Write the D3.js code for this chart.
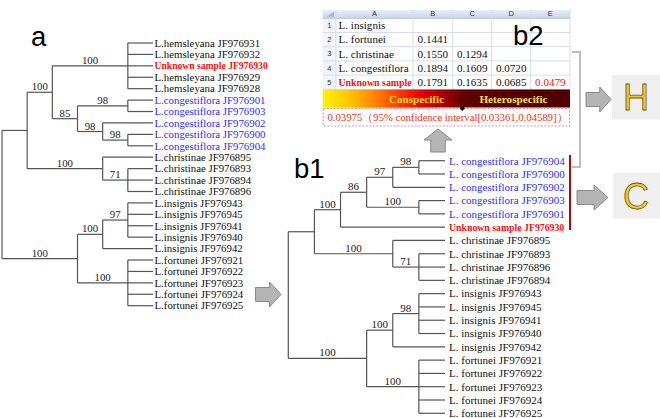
<!DOCTYPE html>
<html><head><meta charset="utf-8">
<script src="https://cdn.jsdelivr.net/npm/d3@7"></script>
<style>body{margin:0;background:#fff}svg{display:block}</style>
</head><body><svg id="c" width="660" height="418"></svg>
<script>
// ---------- DATA ----------
const leavesA = [
  "L.hemsleyana JF976931","L.hemsleyana JF976932","Unknown sample JF976930","L.hemsleyana JF976929","L.hemsleyana JF976928",
  "L.congestiflora JF976901","L.congestiflora JF976903","L.congestiflora JF976902","L.congestiflora JF976900","L.congestiflora JF976904",
  "L.christinae JF976895","L.christinae JF976893","L.christinae JF976894","L.christinae JF976896",
  "L.insignis JF976943","L.insignis JF976945","L.insignis JF976941","L.insignis JF976940","L.insignis JF976942",
  "L.fortunei JF976921","L.fortunei JF976922","L.fortunei JF976923","L.fortunei JF976924","L.fortunei JF976925"];
// topology with bootstrap support; branch length in tree levels
const newickA = "((((0,1,2,3,4)100:3,((5,6)98:2,(7,(8,9)98:1)98:1)85:1)100:1,(10,(11,12,13)71:1)100:3):1,(((14,15,16,17)97:1,18)100:1,(19,20,21,22,23)100:2)100:3)";
const leavesB = [
  "L. congestiflora JF976904","L. congestiflora JF976900","L. congestiflora JF976902","L. congestiflora JF976903","L. congestiflora JF976901",
  "Unknown sample JF976930",
  "L. christinae JF976895","L. christinae JF976893","L. christinae JF976896","L. christinae JF976894",
  "L. insignis JF976943","L. insignis JF976945","L. insignis JF976941","L. insignis JF976940","L. insignis JF976942",
  "L. fortunei JF976921","L. fortunei JF976922","L. fortunei JF976923","L. fortunei JF976924","L. fortunei JF976925"];
const newickB = "((((((0,1)98:1,2)97:1,(3,4)100:2)86:1,5)100:1,(6,(7,8,9)71:1)100:3):1,(((10,11,12,13)98:1,14)100:1,(15,16,17,18,19)100:2)100:3)";
const tableCols = ["A","B","C","D","E"];
const tableSpecies = ["L. insignis","L. fortunei","L. christinae","L. congestiflora","Unknown sample"];
const tableDist = [[],[0.1441],[0.1550,0.1294],[0.1894,0.1609,0.0720],[0.1791,0.1635,0.0685,0.0479]];
const gradientLabels = ["Conspecific","Heterospecific"];
const threshold = "0.03975（95% confidence interval[0.03361,0.04589]）";
const panelLabels = ["a","b1","b2"];
const resultLetters = ["H","C"];

// ---------- HELPERS ----------
const svg = d3.select("#c");
const serif = "'Liberation Serif','Times New Roman',serif";
const sans = "'Liberation Sans',Arial,sans-serif";
const RED = "#f01414", BLUE = "#2f2ff0", LINE = "#555";
const BOLD_SCALE = 0.89;

function parseNewick(s){
  let i = 0;
  function node(){
    const n = {children: []};
    if (s[i] === "("){
      i++;
      while (true){
        n.children.push(node());
        if (s[i] === ","){ i++; continue; }
        if (s[i] === ")"){ i++; break; }
      }
    }
    let tok = "";
    while (i < s.length && !",():;".includes(s[i])) tok += s[i++];
    if (!n.children.length) n.leaf = +tok; else if (tok) n.support = tok;
    if (s[i] === ":"){
      i++; let l = "";
      while (i < s.length && !",();".includes(s[i])) l += s[i++];
      n.len = +l;
    }
    return n;
  }
  return node();
}

function drawTree(newick, names, xS, yS, fs, textGap){
  const g = svg.append("g");
  const root = d3.hierarchy(parseNewick(newick));
  const maxLevel = xS.domain()[1];
  root.eachBefore(d => {
    d.level = !d.parent ? 0 : (d.children ? d.parent.level + (d.data.len || 1) : maxLevel);
  });
  root.leaves().forEach((d, i) => d.yy = yS(i));
  root.eachAfter(d => {
    if (d.children) d.yy = (d.children[0].yy + d.children[d.children.length - 1].yy) / 2;
  });
  const nodes = root.descendants();
  g.selectAll("line.h").data(nodes.filter(d => d.parent)).join("line")
    .attr("x1", d => xS(d.parent.level)).attr("x2", d => xS(d.level))
    .attr("y1", d => d.yy).attr("y2", d => d.yy)
    .attr("stroke", LINE).attr("stroke-width", 1.2);
  g.selectAll("line.v").data(nodes.filter(d => d.children)).join("line")
    .attr("x1", d => xS(d.level)).attr("x2", d => xS(d.level))
    .attr("y1", d => d.children[0].yy).attr("y2", d => d.children[d.children.length - 1].yy)
    .attr("stroke", LINE).attr("stroke-width", 1.2);
  g.selectAll("text.s").data(nodes.filter(d => d.parent && d.data.support)).join("text")
    .attr("x", d => (xS(d.parent.level) + xS(d.level)) / 2)
    .attr("y", d => d.yy - 2)
    .attr("text-anchor", "middle")
    .attr("font-family", serif).attr("font-size", fs)
    .attr("fill", "#222").text(d => d.data.support);
  const isUnk = d => names[d.data.leaf].startsWith("Unknown");
  g.selectAll("text.l").data(root.leaves()).join("text")
    .attr("x", xS(maxLevel) + textGap).attr("y", d => d.yy).attr("dy", "0.35em")
    .attr("font-family", serif).attr("font-size", d => isUnk(d) ? fs * BOLD_SCALE : fs)
    .attr("font-weight", d => isUnk(d) ? "bold" : "normal")
    .attr("fill", d => isUnk(d) ? RED
                 : names[d.data.leaf].includes("congestiflora") ? BLUE : "#111")
    .text(d => names[d.data.leaf]);
  return root;
}

// ---------- TREE a ----------
drawTree(newickA, leavesA,
  d3.scaleLinear().domain([0, 6]).range([2, 153]),
  d3.scaleLinear().domain([0, leavesA.length - 1]).range([43, 305.7]), 10.8, 1.5);

// ---------- TREE b1 ----------
drawTree(newickB, leavesB,
  d3.scaleLinear().domain([0, 6]).range([288.3, 445]),
  d3.scaleLinear().domain([0, leavesB.length - 1]).range([160.7, 413.3]), 11, 4);

svg.append("line").attr("x1", 570).attr("x2", 570).attr("y1", 155).attr("y2", 230)
  .attr("stroke", "#a01010").attr("stroke-width", 2);

// ---------- TABLE b2 ----------
const defs = svg.append("defs");
const hg = defs.append("linearGradient").attr("id", "hdr").attr("x1", 0).attr("x2", 0).attr("y1", 0).attr("y2", 1);
hg.append("stop").attr("offset", 0).attr("stop-color", "#e8eff8");
hg.append("stop").attr("offset", 1).attr("stop-color", "#c6d6eb");
const bg = defs.append("linearGradient").attr("id", "bar");
[[0,"#fff200"],[0.1,"#ffc800"],[0.2,"#ff8c00"],[0.3,"#ff4000"],[0.4,"#e60000"],[0.5,"#9a0000"],[0.57,"#600000"],[1,"#4e0000"]]
  .forEach(([o, c]) => bg.append("stop").attr("offset", o).attr("stop-color", c));

const tX0 = 322.7, tX1 = 570;
const colEdges = [336, 413, 452.7, 491.7, 530.7, 570];
const hY0 = 10, hY1 = 18.3, rowH = 14.2;
const rowY = d3.scaleLinear().domain([0, tableSpecies.length]).range([hY1, hY1 + rowH * tableSpecies.length]);
const tg = svg.append("g");
tg.append("rect").attr("x", tX0).attr("y", hY0).attr("width", tX1 - tX0).attr("height", rowY(5) - hY0).attr("fill", "#fff");
tg.append("rect").attr("x", tX0).attr("y", hY1).attr("width", colEdges[0] - tX0).attr("height", rowY(5) - hY1).attr("fill", "#f1f4f9");
tg.append("rect").attr("x", tX0).attr("y", hY0).attr("width", tX1 - tX0).attr("height", hY1 - hY0).attr("fill", "url(#hdr)");
tg.append("path").attr("d", `M${colEdges[0]-2},${hY0+1.5}L${colEdges[0]-2},${hY1-1.5}L${tX0+4},${hY1-1.5}Z`).attr("fill", "#a9b8cc");
const gridCol = "#d7dee8";
tableSpecies.forEach((s, i) => {
  tg.append("line").attr("x1", tX0).attr("x2", tX1).attr("y1", rowY(i + 1)).attr("y2", rowY(i + 1)).attr("stroke", gridCol);
});
tg.append("line").attr("x1", tX0).attr("x2", tX1).attr("y1", hY1).attr("y2", hY1).attr("stroke", "#b8c6d8");
colEdges.forEach(x => tg.append("line").attr("x1", x).attr("x2", x).attr("y1", hY0).attr("y2", rowY(5)).attr("stroke", gridCol));
tableCols.forEach((c, j) => tg.append("text").attr("x", (colEdges[j] + colEdges[j + 1]) / 2).attr("y", hY1 - 2)
  .attr("text-anchor", "middle").attr("font-family", sans).attr("font-size", 7.5).attr("fill", "#333").text(c));
tableSpecies.forEach((s, i) => {
  const cy = (rowY(i) + rowY(i + 1)) / 2;
  const unk = s.startsWith("Unknown");
  tg.append("text").attr("x", (tX0 + colEdges[0]) / 2).attr("y", cy).attr("dy", "0.35em").attr("text-anchor", "middle")
    .attr("font-family", sans).attr("font-size", 7.5).attr("fill", "#333").text(i + 1);
  tg.append("text").attr("x", colEdges[0] + 2.5).attr("y", cy).attr("dy", "0.35em")
    .attr("font-family", serif).attr("font-size", unk ? 11.1 * BOLD_SCALE : 11.1).attr("font-weight", unk ? "bold" : "normal")
    .attr("fill", unk ? RED : "#111").text(s);
  tableDist[i].forEach((v, j) => {
    tg.append("text").attr("x", (colEdges[j + 1] + colEdges[j + 2]) / 2).attr("y", cy).attr("dy", "0.35em")
      .attr("text-anchor", "middle").attr("font-family", serif).attr("font-size", 11.1)
      .attr("fill", unk && j === tableDist[i].length - 1 ? RED : "#111").text(v.toFixed(4));
  });
});
svg.append("text").attr("x", 513).attr("y", 45).attr("font-family", sans).attr("font-size", 27.5).attr("fill", "#000").text(panelLabels[2]);

const barY0 = 89.5, barY1 = 107.5;
tg.append("rect").attr("x", tX0).attr("y", barY0).attr("width", tX1 - tX0).attr("height", barY1 - barY0).attr("fill", "url(#bar)");
tg.append("text").attr("x", 416.5).attr("y", 103).attr("text-anchor", "middle").attr("font-family", serif)
  .attr("font-weight", "bold").attr("font-size", 11.2).attr("fill", "#ffde2a").text(gradientLabels[0]);
tg.append("text").attr("x", 513.5).attr("y", 103).attr("text-anchor", "middle").attr("font-family", serif)
  .attr("font-weight", "bold").attr("font-size", 11.2).attr("fill", "#f2e25a").text(gradientLabels[1]);
tg.append("rect").attr("x", tX0 + 0.5).attr("y", 108.5).attr("width", tX1 - tX0 - 1).attr("height", 17.5)
  .attr("fill", "#fffafa").attr("stroke", "#d49a9a").attr("stroke-dasharray", "2,1.5").attr("stroke-width", 1);
tg.append("path").attr("d", "M462.3,105.5L465,108.3L462.3,111.1L459.6,108.3Z").attr("fill", "#000");
tg.append("text").attr("x", 327.5).attr("y", 121).attr("font-family", serif).attr("font-size", 10.9)
  .attr("textLength", 240).attr("lengthAdjust", "spacing")
  .attr("fill", "#d5452a").text(threshold);

svg.append("path").attr("d", "M572,52H580V167H572").attr("fill", "none").attr("stroke", "#bdbdbd").attr("stroke-width", 2);

// ---------- ARROWS & RESULT BOXES ----------
function rightArrow(x0, x1, y0, y1){
  const cy = (y0 + y1) / 2, h = y1 - y0, hx = x0 + (x1 - x0) * 0.55, sh = h * 0.28;
  svg.append("path").attr("d", `M${x0},${cy - sh}H${hx}V${y0}L${x1},${cy}L${hx},${y1}V${cy + sh}H${x0}Z`)
    .attr("fill", "#b4b4b4").attr("stroke", "#8a8a8a").attr("stroke-width", 1);
}
function upArrow(x0, x1, y0, y1){
  const cx = (x0 + x1) / 2, w = x1 - x0, hy = y0 + (y1 - y0) * 0.48, sw = w * 0.26;
  svg.append("path").attr("d", `M${cx},${y0}L${x1},${hy}H${cx + sw}V${y1}H${cx - sw}V${hy}H${x0}Z`)
    .attr("fill", "#b4b4b4").attr("stroke", "#8a8a8a").attr("stroke-width", 1);
}
rightArrow(255.5, 281, 282, 307);
upArrow(424, 452, 129, 152);
rightArrow(586, 611, 87, 112);
rightArrow(577, 608, 185, 210);

[[612, 75, 119.5], [613, 173, 218.5]].forEach(([x, y0, y1], i) => {
  svg.append("rect").attr("x", x).attr("y", y0).attr("width", 660 - x).attr("height", y1 - y0).attr("fill", "#efefef");
  svg.append("text").attr("x", 636).attr("y", (y0 + y1) / 2 + 13).attr("text-anchor", "middle")
    .attr("font-family", sans).attr("font-size", 36).attr("fill", "#f6c52a").attr("stroke", "#6e5a1c").attr("stroke-width", 0.8)
    .text(resultLetters[i]);
});

svg.append("text").attr("x", 31).attr("y", 46).attr("font-family", sans).attr("font-size", 27.5).attr("fill", "#000").text(panelLabels[0]);
svg.append("text").attr("x", 294).attr("y", 178).attr("font-family", sans).attr("font-size", 27.5).attr("fill", "#000").text(panelLabels[1]);
</script></body></html>
